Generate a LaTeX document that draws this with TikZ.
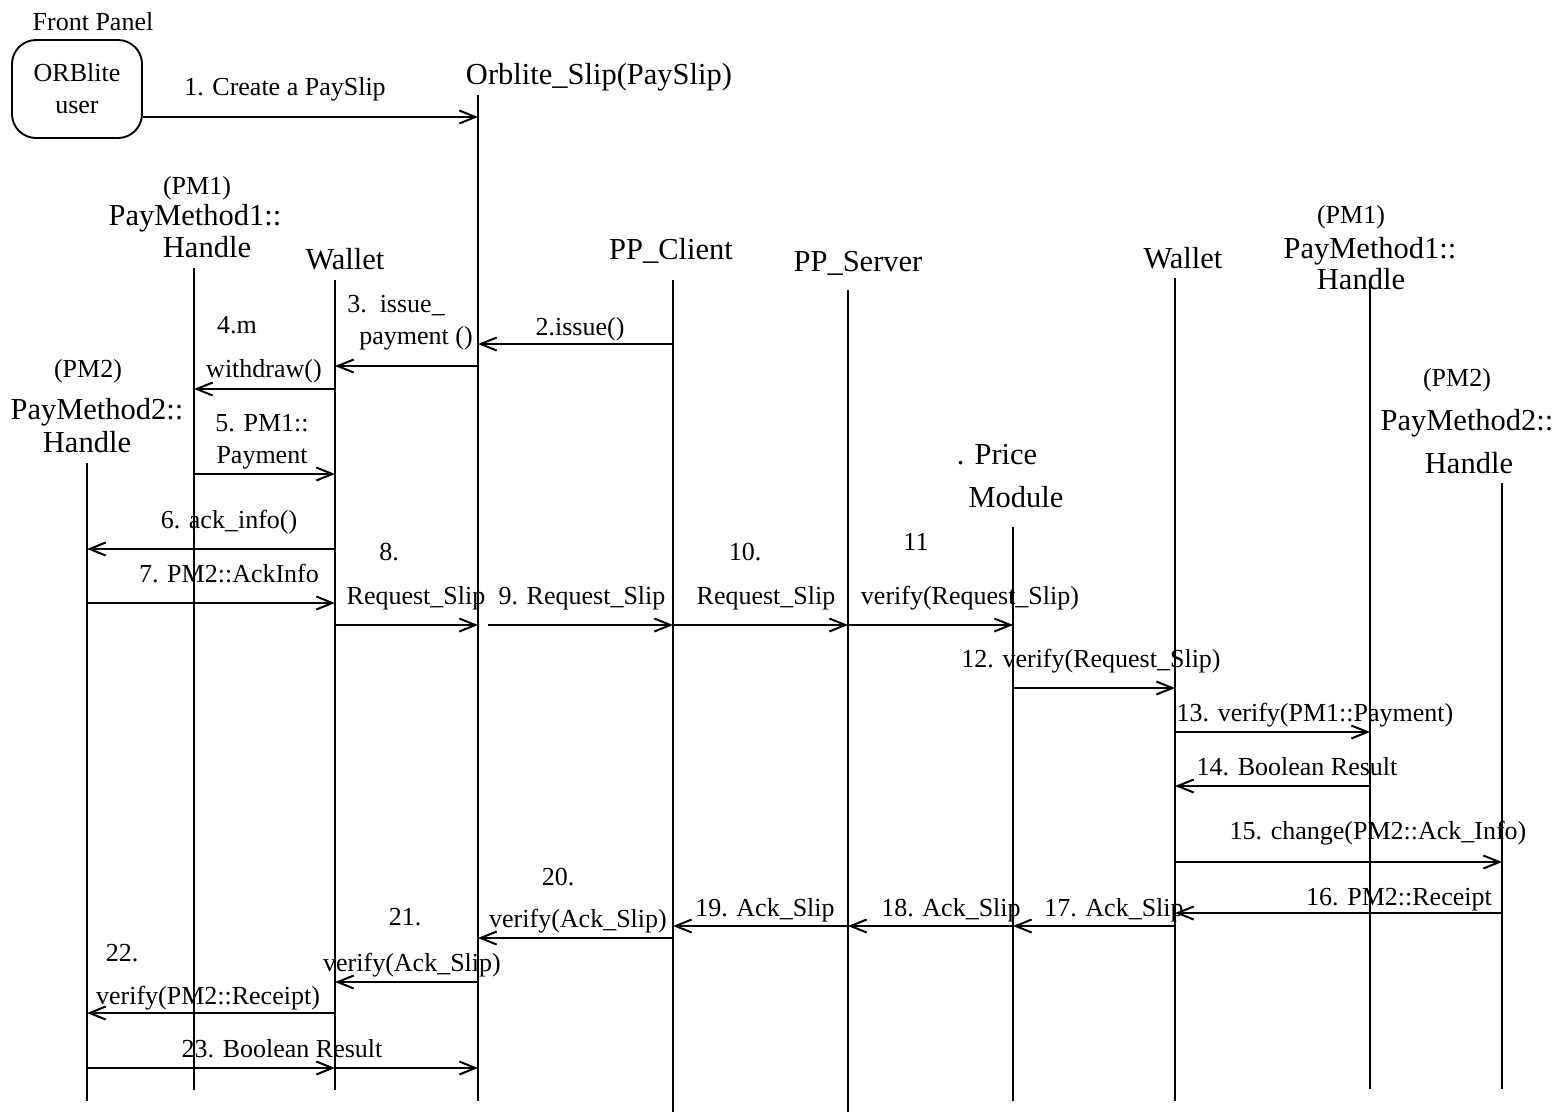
\documentclass[tikz,border=0pt]{standalone}
\usepackage{fontspec}
\setmainfont{Liberation Serif}
\usetikzlibrary{arrows.meta}
\begin{document}
\begin{tikzpicture}[x=1pt,y=-1pt,
  lbl/.style={inner sep=0pt, anchor=base, font=\fontsize{26}{32}\selectfont},
  ttl/.style={inner sep=0pt, anchor=base, font=\fontsize{30.5}{36}\selectfont},
  life/.style={line width=1.9pt},
  msg/.style={line width=1.9pt, -{Straight Barb[length=16pt,width=13pt,line width=2pt]}},
]
\useasboundingbox (0,0) rectangle (1553,1112);

% front panel / user box
\node[lbl] (fp) at (93,30) {Front Panel};
\node[draw, rounded corners=24pt, line width=1.9pt, minimum width=130pt, minimum height=98pt,
      inner sep=0pt, align=center, font=\fontsize{26}{32}\selectfont] (user) at (77,89) {ORBlite\\user};

% lifeline titles
\node[ttl] (tOrb) at (599,84) {Orblite\_Slip(PaySlip)};
\node[lbl] (tPm1La) at (197,194) {(PM1)};
\node[ttl] (tPm1Lb) at (195,225) {PayMethod1::};
\node[ttl] (tPm1Lc) at (207,257) {Handle};
\node[ttl] (tWalL) at (345,269) {Wallet};
\node[lbl] (tPm2La) at (88,377) {(PM2)};
\node[ttl] (tPm2Lb) at (97,419) {PayMethod2::};
\node[ttl] (tPm2Lc) at (87,452) {Handle};
\node[ttl] (tCli) at (671,259) {PP\_Client};
\node[ttl] (tSrv) at (858,271) {PP\_Server};
\node[ttl] (tPriA) at (997,464) {. Price};
\node[ttl] (tPriB) at (1016,507) {Module};
\node[ttl] (tWalR) at (1183,268) {Wallet};
\node[lbl] (tPm1Ra) at (1351,223) {(PM1)};
\node[ttl] (tPm1Rb) at (1370,258) {PayMethod1::};
\node[ttl] (tPm1Rc) at (1361,289) {Handle};
\node[lbl] (tPm2Ra) at (1457,386) {(PM2)};
\node[ttl] (tPm2Rb) at (1467,430) {PayMethod2::};
\node[ttl] (tPm2Rc) at (1469,473) {Handle};

% lifelines
\coordinate (pm2L) at (87,463);   \coordinate (pm2Lb) at (87,1101);
\coordinate (pm1L) at (194,268);  \coordinate (pm1Lb) at (194,1090);
\coordinate (walL) at (335,280);  \coordinate (walLb) at (335,1090);
\coordinate (orb)  at (478,95);   \coordinate (orbb)  at (478,1101);
\coordinate (cli)  at (673,280);  \coordinate (clib)  at (673,1112);
\coordinate (srv)  at (848,290);  \coordinate (srvb)  at (848,1112);
\coordinate (pri)  at (1013,527); \coordinate (prib)  at (1013,1101);
\coordinate (walR) at (1175,278); \coordinate (walRb) at (1175,1101);
\coordinate (pm1R) at (1370,285); \coordinate (pm1Rb) at (1370,1089);
\coordinate (pm2R) at (1502,483); \coordinate (pm2Rb) at (1502,1089);
\foreach \a in {pm2L,pm1L,walL,orb,cli,srv,pri,walR,pm1R,pm2R}
  \draw[life] (\a) -- (\a b);

% messages
\draw[msg] (user.east |- 0,117) -- (orb |- 0,117);
\node[lbl] (l1) at (285,95) {1. Create a PaySlip};

\draw[msg] (cli |- 0,344) -- (orb |- 0,344);
\node[lbl] (l2) at (580,335) {2.issue()};

\draw[msg] (orb |- 0,366) -- (walL |- 0,366);
\node[lbl] (l3a) at (396,312) {3.\ \ issue\_};
\node[lbl] (l3b) at (416,344) {payment ()};

\draw[msg] (walL |- 0,389) -- (pm1L |- 0,389);
\node[lbl] (l4a) at (237,333) {4.m};
\node[lbl] (l4b) at (264,377) {withdraw()};

\draw[msg] (pm1L |- 0,474) -- (walL |- 0,474);
\node[lbl] (l5a) at (262,431) {5. PM1::};
\node[lbl] (l5b) at (262,463) {Payment};

\draw[msg] (walL |- 0,549) -- (pm2L |- 0,549);
\node[lbl] (l6) at (229,528) {6. ack\_info()};

\draw[msg] (pm2L |- 0,603) -- (walL |- 0,603);
\node[lbl] (l7) at (229,582) {7. PM2::AckInfo};

\draw[msg] (walL |- 0,625) -- (orb |- 0,625);
\node[lbl] (l8a) at (389,560) {8.};
\node[lbl] (l8b) at (416,604) {Request\_Slip};

\coordinate (m9s) at (488,625);
\draw[msg] (m9s) -- (cli |- 0,625);
\node[lbl] (l9) at (582,604) {9. Request\_Slip};

\draw[msg] (cli |- 0,625) -- (srv |- 0,625);
\node[lbl] (l10a) at (745,560) {10.};
\node[lbl] (l10b) at (766,604) {Request\_Slip};

\draw[msg] (srv |- 0,625) -- (pri |- 0,625);
\node[lbl] (l11a) at (916,550) {11};
\node[lbl] (l11b) at (970,604) {verify(Request\_Slip)};

\draw[msg] (pri |- 0,688) -- (walR |- 0,688);
\node[lbl] (l12) at (1091,667) {12. verify(Request\_Slip)};

\draw[msg] (walR |- 0,732) -- (pm1R |- 0,732);
\node[lbl] (l13) at (1315,721) {13. verify(PM1::Payment)};

\draw[msg] (pm1R |- 0,786) -- (walR |- 0,786);
\node[lbl] (l14) at (1297,775) {14. Boolean Result};

\draw[msg] (walR |- 0,862) -- (pm2R |- 0,862);
\node[lbl] (l15) at (1378,839) {15. change(PM2::Ack\_Info)};

\draw[msg] (pm2R |- 0,913) -- (walR |- 0,913);
\node[lbl] (l16) at (1399,905) {16. PM2::Receipt};

\draw[msg] (walR |- 0,926) -- (pri |- 0,926);
\node[lbl] (l17) at (1114,916) {17. Ack\_Slip};

\draw[msg] (pri |- 0,926) -- (srv |- 0,926);
\node[lbl] (l18) at (951,916) {18. Ack\_Slip};

\draw[msg] (srv |- 0,926) -- (cli |- 0,926);
\node[lbl] (l19) at (765,916) {19. Ack\_Slip};

\draw[msg] (cli |- 0,938) -- (orb |- 0,938);
\node[lbl] (l20a) at (558,885) {20.};
\node[lbl] (l20b) at (578,927) {verify(Ack\_Slip)};

\draw[msg] (orb |- 0,982) -- (walL |- 0,982);
\node[lbl] (l21a) at (405,925) {21.};
\node[lbl] (l21b) at (412,971) {verify(Ack\_Slip)};

\draw[msg] (walL |- 0,1013) -- (pm2L |- 0,1013);
\node[lbl] (l22a) at (122,961) {22.};
\node[lbl] (l22b) at (208,1004) {verify(PM2::Receipt)};

\draw[msg] (pm2L |- 0,1068) -- (walL |- 0,1068);
\draw[msg] (walL |- 0,1068) -- (orb |- 0,1068);
\node[lbl] (l23) at (282,1057) {23. Boolean Result};

\end{tikzpicture}
\end{document}
